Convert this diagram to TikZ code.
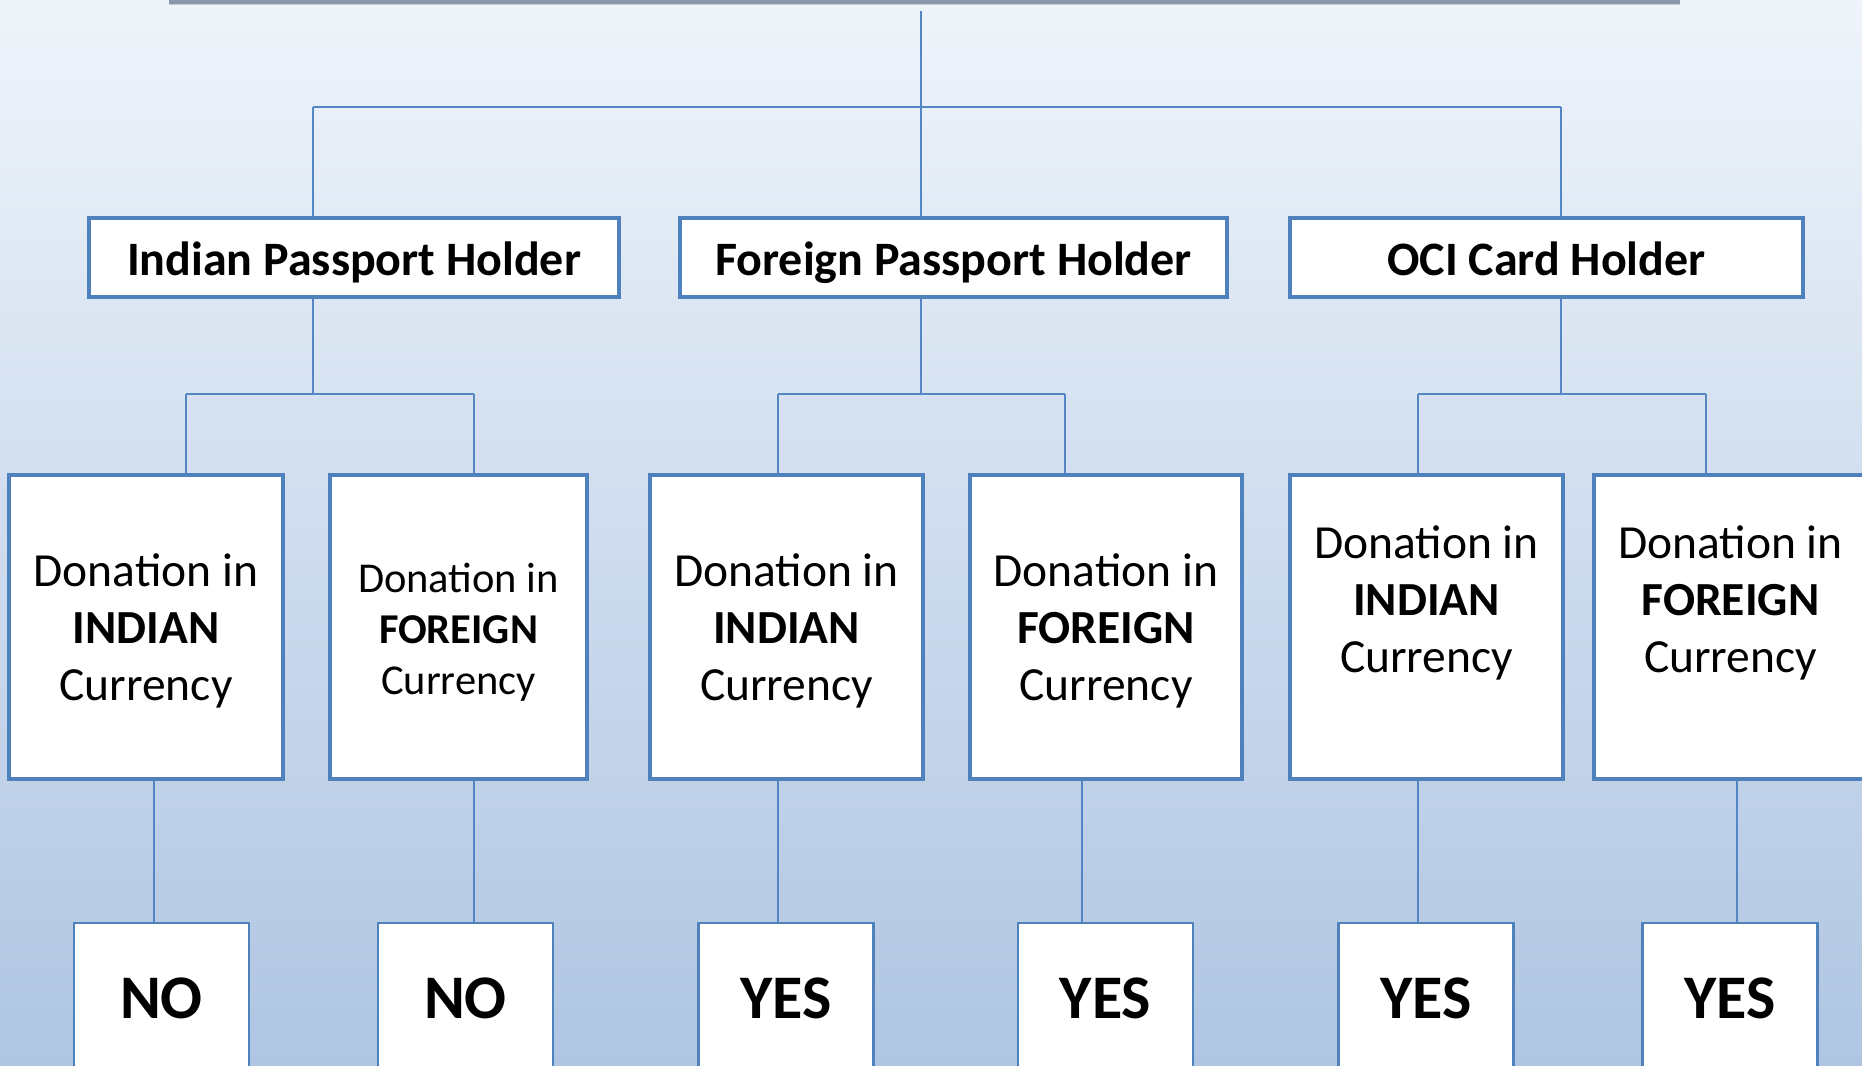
\documentclass[tikz,border=0pt]{standalone}
\usepackage{fontspec}
\setmainfont{Carlito}
\usetikzlibrary{positioning}

\definecolor{boxblue}{RGB}{79,129,189}
\definecolor{lineblue}{RGB}{84,134,196}
\definecolor{bgtop}{RGB}{239,244,250}
\definecolor{bgbottom}{RGB}{175,197,226}
\definecolor{bargray}{RGB}{136,152,172}

\begin{document}
\begin{tikzpicture}[
  x=1pt, y=-1pt,
  every node/.style={rectangle, draw=boxblue, fill=white, align=center, inner sep=0pt},
  holder/.style={line width=3.5pt, minimum height=79pt, text height=35pt, text depth=0pt, font=\fontsize{48}{56}\selectfont\bfseries},
  donation/.style={line width=3.5pt, minimum width=273pt, minimum height=304pt},
  caption/.style={draw=none, fill=none, font=\fontsize{47.5}{57}\selectfont},
  smallcaption/.style={caption, font=\fontsize{42.5}{51}\selectfont},
  answer/.style={line width=2.5pt, minimum width=175pt, minimum height=150pt, font=\fontsize{62}{70}\selectfont\bfseries},
  connector/.style={draw=lineblue, line width=1.5pt}
]
\clip (0,0) rectangle (1862,1065);
\shade[top color=bgtop, bottom color=bgbottom] (0,0) rectangle (1862,1065);
\fill[bargray] (169,0) rectangle (1680,4);
\fill[bargray!50] (169,4) rectangle (1680,5.5);

% Holders
\node[holder, minimum width=530pt] (indian) at (354,257.5) {Indian Passport Holder};
\node[holder, minimum width=547pt] (foreign) at (953.5,257.5) {Foreign Passport Holder};
\node[holder, minimum width=513pt] (oci) at (1546.5,257.5) {OCI Card Holder};

% Donations
\node[donation, minimum width=274pt] (ind_inr) at (146,627) {};
\node[donation, minimum width=257pt] (ind_fc) at (458.5,627) {};
\node[donation] (for_inr) at (786.5,627) {};
\node[donation, minimum width=272pt] (for_fc) at (1106,627) {};
\node[donation] (oci_inr) at (1426.5,627) {};
\node[donation] (oci_fc) at (1730.5,627) {};

\node[caption] (ind_inr_txt) at ([yshift=-3.6pt]ind_inr.center) {Donation in\\\textbf{INDIAN}\\Currency};
\node[smallcaption] (ind_fc_txt) at ([yshift=-4.8pt]ind_fc.center) {Donation in\\\textbf{FOREIGN}\\Currency};
\node[caption] (for_inr_txt) at ([yshift=-3.6pt]for_inr.center) {Donation in\\\textbf{INDIAN}\\Currency};
\node[caption] (for_fc_txt) at ([yshift=-3.6pt]for_fc.center) {Donation in\\\textbf{FOREIGN}\\Currency};
\node[caption] (oci_inr_txt) at ([yshift=24.5pt]oci_inr.center) {Donation in\\\textbf{INDIAN}\\Currency};
\node[caption] (oci_fc_txt) at ([yshift=24.5pt]oci_fc.center) {Donation in\\\textbf{FOREIGN}\\Currency};

% Answers
\node[answer] (ans_ind_inr) at (161.5,998) {NO};
\node[answer] (ans_ind_fc) at (465.5,998) {NO};
\node[answer] (ans_for_inr) at (786,998) {YES};
\node[answer] (ans_for_fc) at (1105.5,998) {YES};
\node[answer] (ans_oci_inr) at (1426,998) {YES};
\node[answer] (ans_oci_fc) at (1730,998) {YES};

% Tree from the top
\coordinate (top) at (921,11);
\coordinate (hub) at (921,107);
\coordinate (hub_ind) at (313,107);
\coordinate (hub_oci) at (1561,107);
\draw[connector] (top) -- (hub);
\draw[connector] (hub_ind) -- (hub_oci);
\draw[connector] (hub_ind) -- (hub_ind |- indian.north);
\draw[connector] (hub) -- (hub |- foreign.north);
\draw[connector] (hub_oci) -- (hub_oci |- oci.north);

% Holders to donations
\coordinate (split_ind) at (313,394);
\coordinate (split_for) at (921,394);
\coordinate (split_oci) at (1561,394);
\coordinate (left_ind) at (186,394);
\coordinate (right_ind) at (474,394);
\coordinate (left_for) at (778,394);
\coordinate (right_for) at (1065,394);
\coordinate (left_oci) at (1418,394);
\coordinate (right_oci) at (1706,394);

\draw[connector] (split_ind |- indian.south) -- (split_ind);
\draw[connector] (split_for |- foreign.south) -- (split_for);
\draw[connector] (split_oci |- oci.south) -- (split_oci);
\draw[connector] (left_ind) -- (right_ind);
\draw[connector] (left_for) -- (right_for);
\draw[connector] (left_oci) -- (right_oci);
\draw[connector] (left_ind) -- (left_ind |- ind_inr.north);
\draw[connector] (right_ind) -- (right_ind |- ind_fc.north);
\draw[connector] (left_for) -- (left_for |- for_inr.north);
\draw[connector] (right_for) -- (right_for |- for_fc.north);
\draw[connector] (left_oci) -- (left_oci |- oci_inr.north);
\draw[connector] (right_oci) -- (right_oci |- oci_fc.north);

% Donations to answers
\coordinate (drop_ind_inr) at (154,850);
\coordinate (drop_ind_fc) at (474,850);
\coordinate (drop_for_inr) at (778,850);
\coordinate (drop_for_fc) at (1082,850);
\coordinate (drop_oci_inr) at (1418,850);
\coordinate (drop_oci_fc) at (1737,850);

\draw[connector] (drop_ind_inr |- ind_inr.south) -- (drop_ind_inr |- ans_ind_inr.north);
\draw[connector] (drop_ind_fc |- ind_fc.south) -- (drop_ind_fc |- ans_ind_fc.north);
\draw[connector] (drop_for_inr |- for_inr.south) -- (drop_for_inr |- ans_for_inr.north);
\draw[connector] (drop_for_fc |- for_fc.south) -- (drop_for_fc |- ans_for_fc.north);
\draw[connector] (drop_oci_inr |- oci_inr.south) -- (drop_oci_inr |- ans_oci_inr.north);
\draw[connector] (drop_oci_fc |- oci_fc.south) -- (drop_oci_fc |- ans_oci_fc.north);

\end{tikzpicture}
\end{document}
